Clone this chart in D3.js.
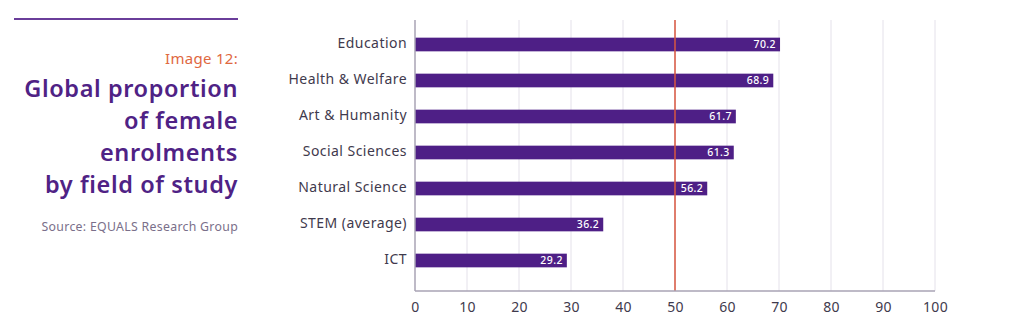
<!DOCTYPE html>
<html>
<head>
<meta charset="utf-8">
<script src="https://cdn.jsdelivr.net/npm/d3@7"></script>
<style>
  html, body { margin: 0; padding: 0; background: #ffffff; }
  svg { display: block; }
</style>
</head>
<body>
<svg id="chart" width="1020" height="328"></svg>
<script>
const categories = ["Education", "Health & Welfare", "Art & Humanity", "Social Sciences", "Natural Science", "STEM (average)", "ICT"];
const values = [70.2, 68.9, 61.7, 61.3, 56.2, 36.2, 29.2];
const tickValues = [0, 10, 20, 30, 40, 50, 60, 70, 80, 90, 100];
const referenceValue = [50];
const titleLines = ["Global proportion", "of female", "enrolments", "by field of study"];
const kicker = "Image 12:";
const sourceText = "Source: EQUALS Research Group";

const font = "'Noto Sans', sans-serif";
const svg = d3.select("#chart");

// Left title panel
svg.append("line").attr("x1", 14).attr("x2", 238).attr("y1", 19).attr("y2", 19)
  .attr("stroke", "#6a3d9a").attr("stroke-width", 2);
svg.append("text").attr("x", 238).attr("y", 64).attr("text-anchor", "end")
  .attr("font-family", font).attr("font-size", 15).attr("letter-spacing", 0.3).attr("fill", "#e0683f").text(kicker);
svg.append("g").selectAll("text").data(titleLines).join("text")
  .attr("x", 238).attr("y", (d, i) => 97 + i * 32).attr("text-anchor", "end")
  .attr("font-family", font).attr("font-size", 23.5).attr("font-weight", 600).attr("letter-spacing", 0.6)
  .attr("fill", "#4f2285").text(d => d);
svg.append("text").attr("x", 238).attr("y", 231).attr("text-anchor", "end")
  .attr("font-family", font).attr("font-size", 12.3).attr("letter-spacing", 0.3).attr("fill", "#7a6f8a").text(sourceText);

// Chart
const x = d3.scaleLinear().domain([0, 100]).range([415, 935]);
const y = d3.scaleBand().domain(categories).range([26, 278]).paddingInner(0.62).paddingOuter(0.31);
const axisY = 291;
const topY = 20;

// gridlines
svg.append("g").selectAll("line").data(tickValues.slice(1)).join("line")
  .attr("x1", d => x(d)).attr("x2", d => x(d)).attr("y1", topY).attr("y2", axisY)
  .attr("stroke", "#e4e1ea").attr("stroke-width", 1);

// bars
svg.append("g").selectAll("rect").data(values).join("rect")
  .attr("x", x(0)).attr("y", (d, i) => y(categories[i]) + 0.5)
  .attr("width", d => x(d) - x(0)).attr("height", y.bandwidth())
  .attr("fill", "#4e1f86");

// value labels
svg.append("g").selectAll("text").data(values).join("text")
  .attr("x", d => x(d) - 4).attr("y", (d, i) => y(categories[i]) + 0.5 + y.bandwidth() / 2)
  .attr("dy", "0.36em").attr("text-anchor", "end")
  .attr("font-family", font).attr("font-size", 10.5).attr("font-weight", 500).attr("letter-spacing", 0.4).attr("fill", "#ffffff")
  .text(d => d.toFixed(1));

// reference line
svg.append("g").selectAll("line").data(referenceValue).join("line")
  .attr("x1", d => x(d)).attr("x2", d => x(d)).attr("y1", topY).attr("y2", axisY)
  .attr("stroke", "#d9573f").attr("stroke-width", 1.5);

// y axis
const yAxis = d3.axisLeft(y).tickSize(0).tickPadding(8);
const gy = svg.append("g").attr("transform", `translate(${x(0)},0)`).call(yAxis);
gy.select(".domain").attr("d", `M0,${topY}V${axisY}`).attr("stroke", "#a9a3b4").attr("stroke-width", 1.5);
gy.selectAll("text").attr("font-family", font).attr("font-size", 14).attr("letter-spacing", 0.45).attr("fill", "#3f3a4d");

// x axis
const xAxis = d3.axisBottom(x).tickValues(tickValues).tickSize(0).tickPadding(11);
const gx = svg.append("g").attr("transform", `translate(0,${axisY})`).call(xAxis);
gx.select(".domain").attr("d", `M${x(0)},0H${x(100)}`).attr("stroke", "#a9a3b4").attr("stroke-width", 1.5);
gx.selectAll("text").attr("font-family", font).attr("font-size", 14).attr("letter-spacing", 0.3).attr("fill", "#3f3a4d");
</script>
</body>
</html>
